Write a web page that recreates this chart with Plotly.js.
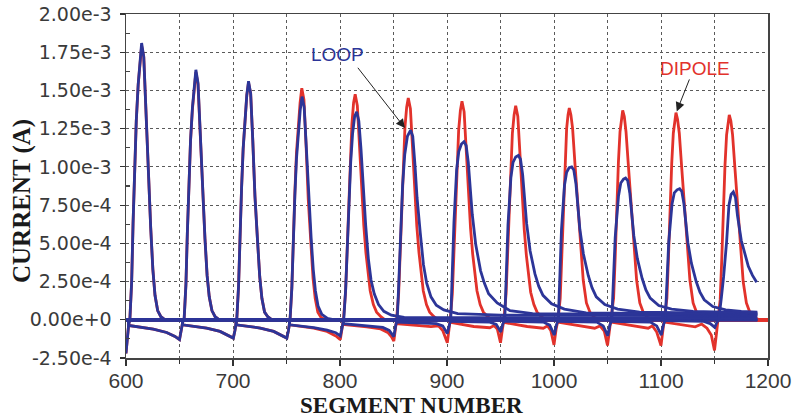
<!DOCTYPE html>
<html>
<head>
<meta charset="utf-8">
<script src="https://cdn.plot.ly/plotly-3.0.1.min.js"></script>
<style>html,body{margin:0;padding:0;background:#fff;}#chart{width:797px;height:418px;}</style>
</head>
<body>
<div id="chart"></div>
<script>
// ---------- axis ticks ----------
const xTickVals = [600, 700, 800, 900, 1000, 1100, 1200];
const xTickText = ['600', '700', '800', '900', '1000', '1100', '1200'];
const yTickVals = [-2.5e-4, 0, 2.5e-4, 5.0e-4, 7.5e-4, 1.0e-3, 1.25e-3, 1.5e-3, 1.75e-3, 2.0e-3];
const yTickText = ['-2.50e-4', '0.00e+0', '2.50e-4', '5.00e-4', '7.50e-4', '1.00e-3', '1.25e-3', '1.50e-3', '1.75e-3', '2.00e-3'];

// ---------- DIPOLE (red) snapshots: segment number / current (A) ----------
const dipoleX1 = [600, 601, 602.5, 603.6, 605.3, 606.6, 608.1, 609.6, 611.4, 613.0, 614.6, 616.6, 618.6, 620.6, 623.1, 625.1, 627.1, 629.6, 632.6, 636.6, 1200];
const dipoleY1 = [-22e-5, -13e-5, -3e-5, 0, 2.5e-4, 6.3e-4, 10.0e-4, 13.0e-4, 15.4e-4, 17.0e-4, 17.9e-4, 17.2e-4, 13.6e-4, 9.4e-4, 6.0e-4, 3.3e-4, 1.6e-4, 0.6e-4, 0.2e-4, 0, 0];

const dipoleX2 = [600, 602, 602.6, 615, 625.5, 638, 645.8, 650, 651.5, 653, 654.3, 656, 657.3, 658.8, 660.3, 662.1, 663.7, 665.3, 667.3, 669.3, 671.3, 673.8, 675.8, 677.8, 680.3, 683.3, 687.3, 1200];
const dipoleY2 = [0, 0, -3.7e-5, -4.8e-5, -6.1e-5, -8.3e-5, -10.9e-5, -13e-5, -7e-5, -1.5e-5, 0, 2.3e-4, 5.6e-4, 8.9e-4, 11.7e-4, 13.8e-4, 15.2e-4, 16.2e-4, 15.4e-4, 12.2e-4, 8.4e-4, 5.3e-4, 2.9e-4, 1.5e-4, 0.6e-4, 0.2e-4, 0, 0];

const dipoleX3 = [600, 652.5, 653, 665, 675.4, 687.9, 697, 700.3, 701.8, 703, 703.5, 705.2, 706.5, 708, 709.5, 711.3, 712.9, 714.5, 716.5, 718.5, 720.5, 723, 725, 727, 729.5, 732.5, 736.5, 1200];
const dipoleY3 = [0, 0, -3.3e-5, -4.3e-5, -5.4e-5, -7.6e-5, -10.9e-5, -12e-5, -7e-5, -1.5e-5, 0, 2.2e-4, 5.5e-4, 8.6e-4, 11.2e-4, 13.3e-4, 14.7e-4, 15.5e-4, 14.8e-4, 11.7e-4, 8.1e-4, 5.1e-4, 2.8e-4, 1.4e-4, 0.5e-4, 0.2e-4, 0, 0];

const dipoleX4 = [600, 702.5, 703, 715, 725.5, 738, 747, 750.3, 751.8, 753, 753.3, 755, 756.3, 757.8, 759.3, 761.1, 762.7, 764.3, 766.3, 768.3, 770.3, 772.8, 774.8, 776.8, 779.3, 782.3, 786.3, 1200];
const dipoleY4 = [0, 0, -3.3e-5, -4.3e-5, -5.4e-5, -7.6e-5, -10.9e-5, -12e-5, -7e-5, -1.5e-5, 0, 2.1e-4, 5.3e-4, 8.3e-4, 10.9e-4, 12.9e-4, 14.2e-4, 15.15e-4, 14.4e-4, 11.4e-4, 7.9e-4, 5.0e-4, 2.7e-4, 1.4e-4, 0.5e-4, 0.15e-4, 0, 0];

const dipoleX5 = [600, 752.5, 753, 765, 775.5, 788, 797, 800.3, 801.8, 803.2, 805.2, 806.5, 808, 809.5, 811.1, 812.7, 814.2, 816.2, 818.2, 820.2, 822.2, 824.2, 826.2, 828.2, 831.2, 834.2, 838.2, 842.2, 1200];
const dipoleY5 = [0, 0, -3.3e-5, -4.3e-5, -5.4e-5, -7.6e-5, -11e-5, -13e-5, -6e-5, 0, 1.8e-4, 4.4e-4, 7.7e-4, 10.6e-4, 12.8e-4, 14.2e-4, 14.75e-4, 14.0e-4, 11.5e-4, 8.4e-4, 6.2e-4, 4.4e-4, 3.0e-4, 1.9e-4, 1.0e-4, 0.5e-4, 0.2e-4, 0, 0];

const dipoleX6 = [600, 802.5, 803, 815, 825, 838, 845, 848, 850.3, 851.8, 852.8, 854.8, 856.1, 857.6, 859.1, 860.7, 862.3, 863.8, 865.8, 867.8, 869.8, 871.8, 873.8, 875.8, 877.8, 880.8, 883.8, 887.8, 891.8, 1200];
const dipoleY6 = [0, 0, -3e-5, -3.8e-5, -4.6e-5, -6e-5, -8.5e-5, -11e-5, -14e-5, -6e-5, 0, 1.7e-4, 4.4e-4, 7.5e-4, 10.4e-4, 12.6e-4, 13.9e-4, 14.5e-4, 13.8e-4, 11.3e-4, 8.3e-4, 6.1e-4, 4.4e-4, 2.9e-4, 1.9e-4, 1.0e-4, 0.5e-4, 0.2e-4, 0, 0];

const dipoleX7 = [600, 852.5, 853, 870, 885, 892, 896, 900.3, 901.8, 903, 905, 906.3, 907.8, 909.3, 910.9, 912.5, 914, 916, 918, 920, 922, 924, 926, 928, 931, 934, 938, 942, 1200];
const dipoleY7 = [0, 0, -2.5e-5, -3.5e-5, -4.5e-5, -4e-5, -7e-5, -15e-5, -6e-5, 0, 1.7e-4, 4.3e-4, 7.4e-4, 10.3e-4, 12.4e-4, 13.7e-4, 14.3e-4, 13.6e-4, 11.2e-4, 8.2e-4, 6.0e-4, 4.3e-4, 2.9e-4, 1.9e-4, 1.0e-4, 0.5e-4, 0.2e-4, 0, 0];

const dipoleX8 = [600, 902.5, 903, 925, 940, 944, 947, 950, 951.8, 953.2, 955.2, 956.5, 958, 959.5, 961.1, 962.7, 964.2, 966.2, 968.2, 970.2, 972.2, 974.2, 976.2, 978.2, 981.2, 984.2, 988.2, 992.2, 1200];
const dipoleY8 = [0, 0, -1.7e-5, -4.4e-5, -5.2e-5, -3.8e-5, -6e-5, -15e-5, -6e-5, 0, 1.7e-4, 4.2e-4, 7.3e-4, 10.1e-4, 12.2e-4, 13.4e-4, 14.0e-4, 13.3e-4, 10.9e-4, 8.0e-4, 5.9e-4, 4.2e-4, 2.8e-4, 1.8e-4, 1.0e-4, 0.5e-4, 0.2e-4, 0, 0];

const dipoleX9 = [600, 952.5, 953, 975, 990, 994, 997, 1000, 1002, 1003.8, 1005.8, 1007.3, 1008.8, 1010.3, 1011.8, 1013.1, 1014.3, 1015.8, 1017.4, 1019.6, 1022.7, 1024.8, 1027.3, 1030.3, 1033.6, 1037.3, 1042.3, 1200];
const dipoleY9 = [0, 0, -1.7e-5, -4.4e-5, -5.5e-5, -4e-5, -7e-5, -16.4e-5, -6e-5, 0, 1.4e-4, 4.2e-4, 7.6e-4, 10.4e-4, 12.5e-4, 13.4e-4, 13.85e-4, 13.4e-4, 12.5e-4, 10.2e-4, 6.9e-4, 4.7e-4, 2.6e-4, 1.1e-4, 0.5e-4, 0.17e-4, 0, 0];

const dipoleX10 = [600, 1002.5, 1003, 1025, 1038, 1043, 1047, 1050, 1052, 1053.7, 1055.7, 1057.2, 1058.7, 1060.2, 1061.7, 1063, 1064.2, 1065.7, 1067.3, 1069.5, 1072.6, 1074.7, 1077.2, 1080.2, 1083.5, 1087.2, 1092.2, 1200];
const dipoleY10 = [0, 0, -1.5e-5, -4e-5, -5.5e-5, -4e-5, -7.5e-5, -16.8e-5, -6e-5, 0, 1.4e-4, 4.1e-4, 7.5e-4, 10.3e-4, 12.3e-4, 13.3e-4, 13.7e-4, 13.3e-4, 12.3e-4, 10.1e-4, 6.85e-4, 4.7e-4, 2.6e-4, 1.1e-4, 0.48e-4, 0.16e-4, 0, 0];

const dipoleX11 = [600, 1052.5, 1053, 1075, 1088, 1092, 1096, 1100, 1102, 1103.5, 1105.5, 1107, 1108.5, 1110, 1111.5, 1112.8, 1114, 1115.5, 1117.1, 1119.3, 1122.4, 1124.5, 1127, 1130, 1133.3, 1137, 1142, 1200];
const dipoleY11 = [0, 0, -1.5e-5, -4e-5, -5.5e-5, -4e-5, -8e-5, -16.8e-5, -6e-5, 0, 1.4e-4, 4.1e-4, 7.5e-4, 10.2e-4, 12.2e-4, 13.1e-4, 13.55e-4, 13.1e-4, 12.2e-4, 10.0e-4, 6.8e-4, 4.6e-4, 2.6e-4, 1.1e-4, 0.47e-4, 0.16e-4, 0, 0];

const dipoleX12 = [600, 1102.5, 1103, 1120, 1132, 1138, 1143, 1147, 1150, 1152, 1153.3, 1155.3, 1156.8, 1158.3, 1159.8, 1161.3, 1162.6, 1163.8, 1165.3, 1166.9, 1169.1, 1172.2, 1174.3, 1176.8, 1179.8, 1183.1, 1186.8, 1191.8, 1200];
const dipoleY12 = [0, 0, -1.5e-5, -3.5e-5, -4.6e-5, -2.8e-5, -5.5e-5, -10e-5, -20e-5, -8e-5, 0, 1.3e-4, 4.0e-4, 7.4e-4, 10.1e-4, 12.1e-4, 13.0e-4, 13.4e-4, 13.0e-4, 12.1e-4, 9.9e-4, 6.7e-4, 4.6e-4, 2.5e-4, 1.1e-4, 0.47e-4, 0.16e-4, 0, 0];

// ---------- LOOP (blue) snapshots ----------
const loopX1 = [600, 601, 602.5, 603.6, 605.3, 606.6, 608.1, 609.6, 611.4, 613.0, 614.6, 616.6, 618.6, 620.6, 623.1, 625.1, 627.1, 629.6, 632.6, 636.6, 1190];
const loopY1 = [-22e-5, -13e-5, -3e-5, 0, 2.5e-4, 6.3e-4, 10.0e-4, 13.0e-4, 15.4e-4, 17.0e-4, 18.1e-4, 17.2e-4, 13.6e-4, 9.4e-4, 6.0e-4, 3.3e-4, 1.6e-4, 0.6e-4, 0.2e-4, 0, 0];

const loopX2 = [600, 602, 602.6, 615, 625.5, 638, 645.8, 650, 651.5, 653, 654.3, 656, 657.3, 658.8, 660.3, 662.1, 663.7, 665.3, 667.3, 669.3, 671.3, 673.8, 675.8, 677.8, 680.3, 683.3, 687.3, 1190];
const loopY2 = [0, 0, -3.7e-5, -4.8e-5, -6.1e-5, -8.3e-5, -10.9e-5, -13e-5, -7e-5, -1.5e-5, 0, 2.3e-4, 5.6e-4, 8.9e-4, 11.7e-4, 13.9e-4, 15.3e-4, 16.35e-4, 15.5e-4, 12.2e-4, 8.4e-4, 5.3e-4, 2.9e-4, 1.5e-4, 0.6e-4, 0.2e-4, 0, 0];

const loopX3 = [600, 652.5, 653, 665, 675.4, 687.9, 697, 700.3, 701.8, 703, 703.5, 705.2, 706.5, 708, 709.5, 711.3, 712.9, 714.5, 716.5, 718.5, 720.5, 723, 725, 727, 729.5, 732.5, 736.5, 1190];
const loopY3 = [0, 0, -3.3e-5, -4.3e-5, -5.4e-5, -7.6e-5, -10.9e-5, -12e-5, -7e-5, -1.5e-5, 0, 2.2e-4, 5.5e-4, 8.6e-4, 11.2e-4, 13.3e-4, 14.7e-4, 15.6e-4, 14.8e-4, 11.7e-4, 8.1e-4, 5.1e-4, 2.8e-4, 1.4e-4, 0.5e-4, 0.2e-4, 0, 0];

const loopX4 = [600, 702.5, 703, 715, 725.5, 738, 747, 750.3, 751.8, 753, 753.3, 755, 756.3, 757.8, 759.3, 761.2, 762.8, 764.5, 766.5, 768.5, 770.5, 773, 775, 777, 779.5, 783, 788, 795, 1190];
const loopY4 = [0, 0, -3.3e-5, -4.3e-5, -5.4e-5, -7.6e-5, -10.9e-5, -12e-5, -7e-5, -1.5e-5, 0, 2.1e-4, 5.2e-4, 8.1e-4, 10.5e-4, 12.4e-4, 13.7e-4, 14.6e-4, 13.9e-4, 11.3e-4, 8.2e-4, 5.4e-4, 3.3e-4, 1.9e-4, 0.9e-4, 0.35e-4, 0.1e-4, 0, 0];

const loopX5 = [600, 752.5, 753, 765, 775.5, 788, 796, 800.3, 801.8, 803.5, 805.3, 806.8, 808.4, 810, 811.8, 813.7, 815.6, 817.6, 819.6, 821.6, 824, 826.5, 829, 832, 836, 841, 848, 860, 1190];
const loopY5 = [0, 0, -3.3e-5, -4.3e-5, -5.2e-5, -6.8e-5, -8.5e-5, -10.5e-5, -5e-5, 0, 2.0e-4, 4.8e-4, 7.8e-4, 10.3e-4, 12.2e-4, 13.3e-4, 13.6e-4, 13.0e-4, 11.2e-4, 8.8e-4, 6.2e-4, 4.0e-4, 2.6e-4, 1.7e-4, 1.0e-4, 0.55e-4, 0.3e-4, 0.15e-4, 0.1e-4];

const loopX6 = [600, 802.5, 803, 815, 828, 840, 846, 850.3, 852, 853.5, 855, 856.5, 858.5, 860.5, 863, 866, 868, 870, 872, 875, 878, 881, 885, 890, 897, 910, 950, 1190];
const loopY6 = [0, 0, -2.5e-5, -3.3e-5, -4e-5, -5e-5, -7e-5, -11e-5, -4e-5, 0, 2.5e-4, 5.5e-4, 8.8e-4, 10.8e-4, 12.0e-4, 12.4e-4, 12.0e-4, 10.2e-4, 8.0e-4, 5.7e-4, 3.6e-4, 2.4e-4, 1.5e-4, 0.95e-4, 0.65e-4, 0.4e-4, 0.3e-4, 0.25e-4];

const loopX7 = [600, 852.5, 853, 870, 890, 896, 900.3, 902, 903.5, 905, 906.5, 909, 911, 913.5, 915.9, 917.9, 919.9, 923.6, 926.9, 931.4, 934.9, 938.9, 946.9, 958.9, 980, 1190];
const loopY7 = [0, 0, -1.5e-5, -2e-5, -2.5e-5, -4e-5, -9e-5, -4e-5, 0, 3.2e-4, 6.4e-4, 9.8e-4, 11.0e-4, 11.5e-4, 11.65e-4, 11.4e-4, 10.3e-4, 6.9e-4, 4.9e-4, 3.2e-4, 2.4e-4, 1.7e-4, 1.1e-4, 0.6e-4, 0.4e-4, 0.3e-4];

const loopX8 = [600, 902.5, 903, 940, 946, 950.3, 952, 954, 955.5, 957, 959.7, 961.7, 964.2, 966.7, 968.7, 970.7, 974.4, 977.7, 982.2, 985.7, 989.7, 997.7, 1009.7, 1030, 1190];
const loopY8 = [0, 0, -1e-5, -1.5e-5, -3e-5, -8e-5, -3e-5, 0, 3.1e-4, 6.2e-4, 9.3e-4, 10.3e-4, 10.65e-4, 10.75e-4, 10.5e-4, 9.5e-4, 6.3e-4, 4.5e-4, 3.0e-4, 2.2e-4, 1.6e-4, 1.05e-4, 0.7e-4, 0.45e-4, 0.35e-4];

const loopX9 = [600, 952.5, 953, 990, 996, 1000.3, 1002, 1004, 1005.5, 1007, 1009.8, 1011.8, 1014.2, 1016.5, 1018.5, 1020.5, 1024.2, 1027.5, 1032, 1035.5, 1039.5, 1047.5, 1059.5, 1080, 1190];
const loopY9 = [0, 0, -1e-5, -1.5e-5, -3.5e-5, -10e-5, -4e-5, 0, 2.9e-4, 5.9e-4, 8.8e-4, 9.65e-4, 9.95e-4, 10.0e-4, 9.8e-4, 8.9e-4, 5.9e-4, 4.3e-4, 2.9e-4, 2.1e-4, 1.5e-4, 1.0e-4, 0.7e-4, 0.5e-4, 0.4e-4];

const loopX10 = [600, 1002.5, 1003, 1040, 1046, 1050.3, 1052, 1054, 1055.6, 1057.2, 1060.3, 1062.4, 1065, 1066.9, 1068.9, 1070.9, 1074.6, 1077.9, 1082.4, 1085.9, 1089.9, 1097.9, 1109.9, 1130, 1190];
const loopY10 = [0, 0, -1e-5, -1.5e-5, -4e-5, -10.5e-5, -4e-5, 0, 2.7e-4, 5.4e-4, 8.1e-4, 8.95e-4, 9.2e-4, 9.27e-4, 9.1e-4, 8.25e-4, 5.5e-4, 4.0e-4, 2.7e-4, 1.95e-4, 1.42e-4, 0.93e-4, 0.7e-4, 0.55e-4, 0.45e-4];

const loopX11 = [600, 1052.5, 1053, 1090, 1096, 1100.3, 1102, 1104, 1105.6, 1107.2, 1110.3, 1112.4, 1115, 1117.4, 1119.4, 1121.4, 1125.1, 1128.4, 1132.9, 1136.4, 1140.4, 1148.4, 1160.4, 1175, 1190];
const loopY11 = [0, 0, -1e-5, -1.5e-5, -4e-5, -10e-5, -4e-5, 0, 2.5e-4, 5.06e-4, 7.57e-4, 8.3e-4, 8.5e-4, 8.57e-4, 8.4e-4, 7.6e-4, 5.06e-4, 3.7e-4, 2.5e-4, 1.8e-4, 1.31e-4, 0.87e-4, 0.65e-4, 0.55e-4, 0.5e-4];

const loopX12 = [600, 1102.5, 1103, 1140, 1146, 1150.3, 1152, 1154, 1156.5, 1158.5, 1161.3, 1163.5, 1165.5, 1167.6, 1169.6, 1171.5, 1175, 1178.5, 1181.6, 1185.5, 1189.4];
const loopY12 = [0, 0, -0.5e-5, -1e-5, -2.5e-5, -5e-5, -2e-5, 0, 1.5e-4, 2.8e-4, 5.1e-4, 7.5e-4, 8.2e-4, 8.36e-4, 8.0e-4, 6.8e-4, 5.2e-4, 4.2e-4, 3.5e-4, 2.9e-4, 2.45e-4];

// ---------- annotation labels ----------
const loopLabel = 'LOOP';
const dipoleLabel = 'DIPOLE';
const xTitle = 'SEGMENT NUMBER';
const yTitle = 'CURRENT (A)';

const RED = '#E2322B';
const BLUE = '#2C3598';

const dipoleXs = [dipoleX1, dipoleX2, dipoleX3, dipoleX4, dipoleX5, dipoleX6, dipoleX7, dipoleX8, dipoleX9, dipoleX10, dipoleX11, dipoleX12];
const dipoleYs = [dipoleY1, dipoleY2, dipoleY3, dipoleY4, dipoleY5, dipoleY6, dipoleY7, dipoleY8, dipoleY9, dipoleY10, dipoleY11, dipoleY12];
const loopXs = [loopX1, loopX2, loopX3, loopX4, loopX5, loopX6, loopX7, loopX8, loopX9, loopX10, loopX11, loopX12];
const loopYs = [loopY1, loopY2, loopY3, loopY4, loopY5, loopY6, loopY7, loopY8, loopY9, loopY10, loopY11, loopY12];

const traces = [];
dipoleXs.forEach((xs, i) => traces.push({
  type: 'scatter', mode: 'lines', x: xs, y: dipoleYs[i], name: 'DIPOLE',
  line: {color: RED, width: 2.8}, hoverinfo: 'skip', showlegend: false
}));
loopXs.forEach((xs, i) => traces.push({
  type: 'scatter', mode: 'lines', x: xs, y: loopYs[i], name: 'LOOP',
  line: {color: BLUE, width: 2.8}, hoverinfo: 'skip', showlegend: false
}));

const gridCol = '#5a5a5a';
const layout = {
  width: 797, height: 418,
  margin: {l: 126, r: 29, t: 14, b: 60, pad: 0},
  paper_bgcolor: '#ffffff', plot_bgcolor: '#ffffff',
  showlegend: false,
  xaxis: {
    range: [600, 1200], tickmode: 'array', tickvals: xTickVals, ticktext: xTickText,
    ticks: 'outside', ticklen: 6, tickwidth: 1.2, tickcolor: '#333',
    showgrid: true, gridcolor: gridCol, griddash: 'dot', gridwidth: 1,
    showline: true, linecolor: '#444', linewidth: 1.5, mirror: true, zeroline: false,
    tickfont: {family: 'Liberation Sans, Arial, sans-serif', size: 21, color: '#3a3a3a'},
    ticklabelstandoff: -3,
    minor: {tickmode: 'linear', tick0: 650, dtick: 100, ticks: 'outside', ticklen: 4, tickcolor: '#333',
            showgrid: true, gridcolor: gridCol, griddash: 'dot', gridwidth: 1}
  },
  yaxis: {
    range: [-2.5e-4, 2.0e-3], tickmode: 'array', tickvals: yTickVals, ticktext: yTickText,
    ticks: 'outside', ticklen: 5, tickwidth: 1.2, tickcolor: '#333',
    showgrid: true, gridcolor: gridCol, griddash: 'dot', gridwidth: 1,
    showline: true, linecolor: '#444', linewidth: 1.5, mirror: true, zeroline: false,
    tickfont: {family: 'DejaVu Sans, sans-serif', size: 19, color: '#3a3a3a'},
    ticklabelstandoff: 4,
    minor: {tickmode: 'linear', tick0: -1.25e-4, dtick: 2.5e-4, ticks: 'inside', ticklen: 4, tickcolor: '#444', showgrid: false}
  },
  annotations: [
    {xref: 'paper', yref: 'paper', x: -0.1612, y: 0.455, text: yTitle, textangle: -90, showarrow: false,
     xanchor: 'center', yanchor: 'middle',
     font: {family: 'Liberation Serif, Times New Roman, serif', size: 25, color: '#1a1a1a', weight: 700}},
    {xref: 'paper', yref: 'paper', x: 0.4447, y: -0.1395, text: xTitle, showarrow: false,
     xanchor: 'center', yanchor: 'middle',
     font: {family: 'Liberation Serif, Times New Roman, serif', size: 23, color: '#1a1a1a', weight: 700}},
    {x: 798, y: 1.734e-3, text: loopLabel, showarrow: false, xanchor: 'center', yanchor: 'middle',
     font: {family: 'Liberation Sans, Arial, sans-serif', size: 19, color: BLUE}},
    {x: 1131.8, y: 1.643e-3, text: dipoleLabel, showarrow: false, xanchor: 'center', yanchor: 'middle',
     font: {family: 'Liberation Sans, Arial, sans-serif', size: 19, color: RED}},
    {x: 860.7, y: 1.254e-3, ax: 815.6, ay: 1.658e-3, axref: 'x', ayref: 'y', text: '', showarrow: true,
     arrowhead: 2, arrowsize: 1.8, arrowwidth: 1, arrowcolor: '#222'},
    {x: 1114.7, y: 1.363e-3, ax: 1127.1, ay: 1.582e-3, axref: 'x', ayref: 'y', text: '', showarrow: true,
     arrowhead: 2, arrowsize: 1.8, arrowwidth: 1, arrowcolor: '#222'}
  ]
};

Plotly.newPlot('chart', traces, layout, {staticPlot: true, displayModeBar: false});
</script>
</body>
</html>
